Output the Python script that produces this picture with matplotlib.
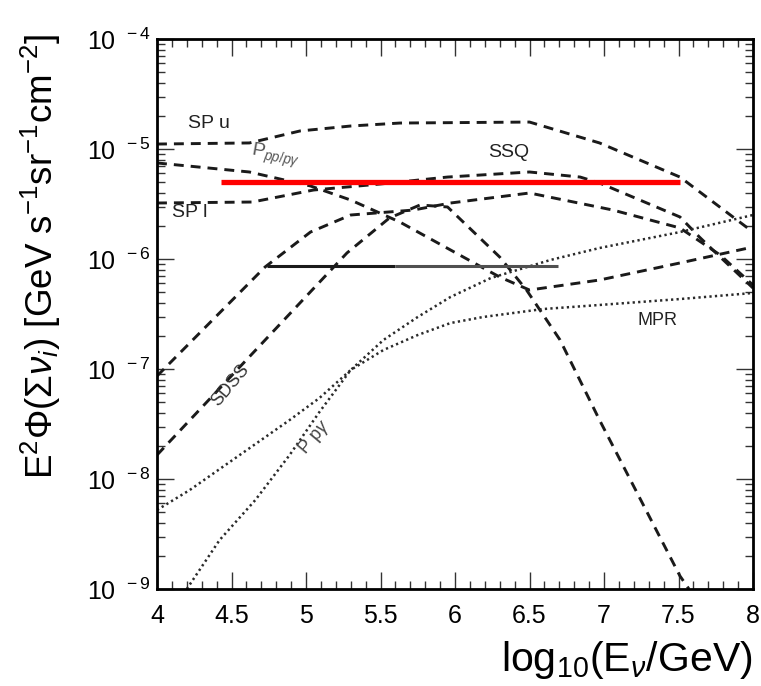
import numpy as np
import matplotlib
matplotlib.use("Agg")
import matplotlib.pyplot as plt
from matplotlib.ticker import MultipleLocator, FixedLocator, FuncFormatter, NullFormatter

plt.rcParams['font.family'] = ['Liberation Sans', 'DejaVu Sans']
plt.rcParams['mathtext.fontset'] = 'custom'
plt.rcParams['mathtext.rm'] = 'Liberation Sans'
plt.rcParams['mathtext.it'] = 'Liberation Sans:italic'

# curves: x = log10(E/GeV), y = log10(E^2 Phi)
spu_x = [4.0, 4.62, 4.96, 5.30, 5.63, 6.50, 6.97, 7.51, 8.0]
spu_y = [-4.955, -4.945, -4.836, -4.791, -4.764, -4.755, -4.945, -5.255, -5.755]

spl_x = [4.0, 4.64, 5.05, 5.50, 5.95, 6.50, 6.84, 6.97, 7.51, 7.64, 7.78, 8.0]
spl_y = [-5.491, -5.482, -5.373, -5.318, -5.255, -5.209, -5.255, -5.309, -5.618, -5.80, -5.982, -6.264]

ssq_x = [4.0, 4.725, 5.03, 5.30, 5.72, 5.97, 6.50, 7.06, 7.51, 7.78, 8.0]
ssq_y = [-7.064, -6.073, -5.755, -5.60, -5.555, -5.491, -5.40, -5.555, -5.718, -5.964, -6.237]

sdss_x = [4.0, 5.275, 5.56, 5.765, 5.95, 6.30, 6.48, 6.705, 6.97, 7.51, 7.57]
sdss_y = [-7.782, -5.945, -5.627, -5.509, -5.527, -5.982, -6.282, -6.736, -7.464, -8.882, -9.0]

ppp_x = [4.0, 4.62, 5.03, 5.30, 5.63, 5.97, 6.30, 6.50, 6.97, 7.51, 8.0]
ppp_y = [-5.127, -5.209, -5.336, -5.464, -5.664, -5.918, -6.164, -6.282, -6.191, -6.036, -5.891]

pg_x = [4.20, 4.42, 4.66, 4.89, 5.09, 5.30, 5.52, 5.75, 5.97, 6.24, 6.64, 6.97, 7.51, 8.0]
pg_y = [-9.0, -8.555, -8.191, -7.782, -7.391, -7.009, -6.736, -6.527, -6.345, -6.173, -6.009, -5.90, -5.755, -5.60]

mpr_x = [4.0, 4.22, 4.44, 4.67, 4.89, 5.09, 5.30, 5.52, 5.75, 5.97, 6.19, 6.59, 6.97, 7.51, 8.0]
mpr_y = [-8.282, -8.10, -7.891, -7.673, -7.464, -7.264, -7.009, -6.827, -6.691, -6.582, -6.527, -6.455, -6.418, -6.364, -6.309]

# horizontal limits
red_x = [4.43, 7.51]
red_y = -5.30
black_x = [4.74, 5.60, 6.69]
black_y = -6.064

decades = [-9, -8, -7, -6, -5, -4]

fig = plt.figure(figsize=(7.61, 6.86), dpi=100)
ax = fig.add_axes([157/761, 1-589/686, 596/761, 550/686])

dash = (0, (3.4, 2.4))
dot = (0, (0.9, 1.3))
lc = '#1a1a1a'
for xs, ys in [(spu_x, spu_y), (spl_x, spl_y), (ssq_x, ssq_y), (sdss_x, sdss_y), (ppp_x, ppp_y)]:
    ax.plot(xs, np.power(10.0, ys), color=lc, lw=2.1, linestyle=dash)
for xs, ys in [(pg_x, pg_y), (mpr_x, mpr_y)]:
    ax.plot(xs, np.power(10.0, ys), color='#2a2a2a', lw=1.8, linestyle=dot)

ax.plot(red_x, [10**red_y]*2, color='#ff0000', lw=3.8, solid_capstyle='butt')
ax.plot(black_x[:2], [10**black_y]*2, color='#1a1a1a', lw=2.2, solid_capstyle='butt')
ax.plot(black_x[1:], [10**black_y]*2, color='#505050', lw=2.2, solid_capstyle='butt')

ax.set_yscale('log')
ax.set_xlim(4, 8)
ax.set_ylim(1e-9, 1e-4)

ax.xaxis.set_major_locator(MultipleLocator(0.5))
ax.xaxis.set_minor_locator(MultipleLocator(0.1))
ax.xaxis.set_major_formatter(FuncFormatter(lambda v, p: '%g' % v))
ax.yaxis.set_major_locator(FixedLocator([10.0**d for d in decades]))
ax.yaxis.set_minor_locator(FixedLocator([m * 10.0**d for d in decades[:-1] for m in range(2, 10)]))
ax.yaxis.set_minor_formatter(NullFormatter())
ax.yaxis.set_major_formatter(FuncFormatter(lambda v, p: r'$10^{\;\;%d}$' % round(np.log10(v))))

ax.tick_params(which='both', direction='in', top=True, right=True, width=1.0, color='#333333')
ax.tick_params(which='major', length=12, labelsize=18, pad=5)
ax.tick_params(which='minor', length=6)
ax.tick_params(axis='x', which='major', pad=11)
for s in ax.spines.values():
    s.set_linewidth(2.0)

# curve labels
ax.text(4.21, 10**-4.764, 'SP u', fontsize=14, color='#222222', ha='left', va='center')
ax.text(4.10, 10**-5.573, 'SP l', fontsize=14, color='#222222', ha='left', va='center')
ax.text(4.62, 10**-5.06, r'P$_{pp/p\gamma}$', fontsize=14, color='#555555', rotation=-10,
        ha='left', va='center')
ax.text(6.36, 10**-5.036, 'SSQ', fontsize=14, color='#222222', ha='center', va='center')
ax.text(7.36, 10**-6.555, 'MPR', fontsize=13, color='#222222', ha='center', va='center')
ax.text(4.49, 10**-7.15, 'SDSS', fontsize=13, color='#333333', rotation=50, ha='center', va='center')
ax.text(5.06, 10**-7.62, r'P p$\gamma$', fontsize=13, color='#444444', rotation=50,
        ha='center', va='center')

fig.text(41/761, 1-33/686, r'E$^2\Phi(\Sigma\nu_i)$ [GeV s$^{-1}$sr$^{-1}$cm$^{-2}$]',
         rotation=90, fontsize=26.5, ha='center', va='top')
fig.text(753/761, 1-660/686, r'log$_{10}$(E$_\nu$/GeV)', fontsize=29.5, ha='right', va='center')

fig.savefig('out.png', dpi=100, facecolor='white')
